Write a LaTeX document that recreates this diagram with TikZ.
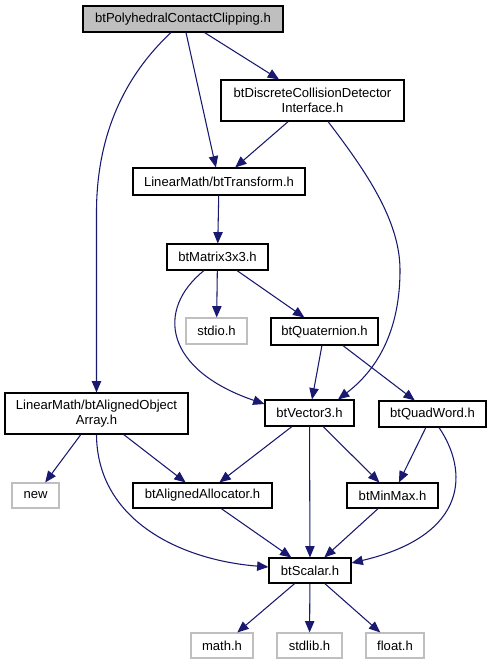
\documentclass[tikz,border=0pt]{standalone}
\usepackage{fontspec}
\setmainfont{Liberation Sans}
\usetikzlibrary{arrows.meta,calc}
\definecolor{edgeblue}{HTML}{191970}
\definecolor{greybox}{HTML}{BFBFBF}
\tikzset{
  nd/.style 2 args={draw=black, line width=0.8pt, rectangle, inner sep=0pt,
    minimum width=#1*0.75pt, minimum height=#2*0.75pt, align=center,
    font=\fontsize{9.8}{11.6}\selectfont},
  ext/.style={draw=greybox},
  e/.style={draw=edgeblue, line width=0.8pt, -{Triangle[length=8.5pt,width=7pt]}, fill=none},
}
\begin{document}
\begin{tikzpicture}[x=0.75pt,y=-0.75pt]
\useasboundingbox (0,0) rectangle (491,664);
\node[nd={200}{26}, fill=greybox] (root) at (183,19) {btPolyhedralContactClipping.h};
\node[nd={183}{41}] (dcd) at (312.5,100.5) {btDiscreteCollisionDetector\\Interface.h};
\node[nd={172}{27}] (trans) at (219,181.5) {LinearMath/btTransform.h};
\node[nd={101}{26}] (mat) at (217.5,257) {btMatrix3x3.h};
\node[nd={61}{26}, ext] (stdio) at (216.5,331) {stdio.h};
\node[nd={107}{27}] (quat) at (324.5,331.5) {btQuaternion.h};
\node[nd={183}{41}] (aoa) at (96.5,413.5) {LinearMath/btAlignedObject\\Array.h};
\node[nd={89}{26}] (vec) at (309.5,413) {btVector3.h};
\node[nd={107}{26}] (qw) at (432.5,414) {btQuadWord.h};
\node[nd={47}{25}, ext] (new) at (35.5,495.5) {new};
\node[nd={139}{25}] (aa) at (202.5,495.5) {btAlignedAllocator.h};
\node[nd={91}{25}] (mm) at (392.5,495.5) {btMinMax.h};
\node[nd={82}{25}] (scalar) at (310,570.5) {btScalar.h};
\node[nd={62}{25}, ext] (math) at (222,645.5) {math.h};
\node[nd={65}{25}, ext] (stdlib) at (309.5,645.5) {stdlib.h};
\node[nd={58}{25}, ext] (float) at (395,645.5) {float.h};

\draw[e] ($(root.south)+(-12,0)$) .. controls (115,85) and (96,150) .. (96.5,215) -- (aoa.north);
\draw[e] (root) -- (trans);
\draw[e] (root) -- (dcd);
\draw[e] (dcd) -- (trans);
\draw[e] ($(dcd.south)+(15.5,0)$) .. controls (365,170) and (400,220) .. (400,270) .. controls (400,340) and (370,375) .. ($(vec.north)+(28.5,0)$);
\draw[e] (trans) -- (mat);
\draw[e] ($(mat.south)+(-13.5,0)$) .. controls (155,310) and (165,370) .. ($(vec.west)+(0,-9)$);
\draw[e] (mat) -- (stdio);
\draw[e] (mat) -- (quat);
\draw[e] (quat) -- (vec);
\draw[e] (quat) -- (qw);
\draw[e] (aoa) -- (new);
\draw[e] (aoa) -- (aa);
\draw[e] (aoa.south) .. controls (97,520) and (180,560) .. ($(scalar.west)+(0,-3.5)$);
\draw[e] (vec) -- (aa);
\draw[e] (vec) -- (scalar);
\draw[e] (vec) -- (mm);
\draw[e] (qw) -- (mm);
\draw[e] ($(qw.south)+(6.5,0)$) .. controls (468,470) and (470,535) .. ($(scalar.east)+(0,-7.5)$);
\draw[e] (aa) -- (scalar);
\draw[e] (mm) -- (scalar);
\draw[e] (scalar) -- (math);
\draw[e] (scalar) -- (stdlib);
\draw[e] (scalar) -- (float);
\end{tikzpicture}
\end{document}
